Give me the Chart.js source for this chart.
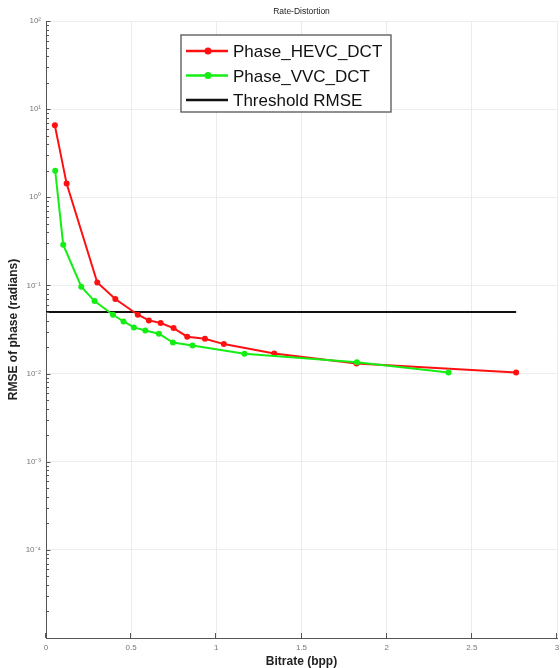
<!DOCTYPE html>
<html>
<head>
<meta charset="utf-8">
<title>Rate-Distortion</title>
<script src="https://cdn.jsdelivr.net/npm/chart.js@4.4.1/dist/chart.umd.min.js"></script>
<style>
  html, body { margin: 0; padding: 0; background: #ffffff; }
  #wrap { width: 560px; height: 668px; position: relative; }
  canvas { display: block; }
</style>
</head>
<body>
<div id="wrap"><canvas id="rd" width="560" height="668"></canvas></div>
<script>
// Rate (bpp) and phase RMSE (radians) for each codec
const hevcRate = [0.052, 0.121, 0.301, 0.407, 0.539, 0.604, 0.673, 0.749, 0.829, 0.933, 1.044, 1.340, 1.823, 2.760];
const hevcRmse = [6.55, 1.43, 0.108, 0.0700, 0.0465, 0.0401, 0.0374, 0.0328, 0.0262, 0.0248, 0.0216, 0.0169, 0.0130, 0.0103];

const vvcRate = [0.054, 0.101, 0.207, 0.285, 0.393, 0.455, 0.516, 0.583, 0.663, 0.745, 0.860, 1.165, 1.825, 2.363];
const vvcRmse = [2.00, 0.290, 0.0966, 0.0664, 0.0465, 0.0390, 0.0334, 0.0308, 0.0283, 0.0225, 0.0208, 0.0168, 0.0134, 0.0103];

// Acceptance threshold on phase RMSE
const thresholdRate = [0, 2.76];
const thresholdRmse = [0.05, 0.05];

// Axis ticks
const xTicks = [0, 0.5, 1, 1.5, 2, 2.5, 3];
const xTickLabels = ['0', '0.5', '1', '1.5', '2', '2.5', '3'];
const yDecades = [-5, -4, -3, -2, -1, 0, 1, 2];
const yLabelledDecades = [-4, -3, -2, -1, 0, 1, 2];

const seriesNames = ['Phase_HEVC_DCT', 'Phase_VVC_DCT', 'Threshold RMSE'];
const chartTitle = 'Rate-Distortion';

const FONT = "'Liberation Sans', Arial, Helvetica, sans-serif";
Chart.defaults.font.family = FONT;

const SUP = {'0':'\u2070','1':'\u00b9','2':'\u00b2','3':'\u00b3','4':'\u2074','5':'\u2075','6':'\u2076','7':'\u2077','8':'\u2078','9':'\u2079','-':'\u207b'};
function decadeOf(v) {
  const l = Math.log10(v);
  const e = Math.round(l);
  return Math.abs(l - e) < 1e-6 ? e : null;
}
function powerLabel(e) {
  return '10' + String(e).split('').map(c => SUP[c]).join('');
}

// log axis tick values: every 1..9 x 10^n between the bounds
const yTickValues = [];
yDecades.forEach((e, i) => {
  if (i === yDecades.length - 1) { yTickValues.push(Math.pow(10, e)); return; }
  for (let m = 1; m <= 9; m++) yTickValues.push(m * Math.pow(10, e));
});

const pts = (xs, ys) => xs.map((x, i) => ({ x: x, y: ys[i] }));

// small title centred over the plot area
const plotTitle = {
  id: 'plotTitle',
  afterDraw(chart, args, opts) {
    const { ctx, chartArea } = chart;
    ctx.save();
    ctx.fillStyle = '#222';
    ctx.font = '8.5px ' + FONT;
    ctx.textAlign = 'center';
    ctx.textBaseline = 'middle';
    ctx.fillText(opts.text, (chartArea.left + chartArea.right) / 2, opts.y);
    ctx.restore();
  }
};

// inward tick marks on the left and bottom axes
const innerTicks = {
  id: 'innerTicks',
  afterDraw(chart) {
    const { ctx, chartArea } = chart;
    const xs = chart.scales.x, ys = chart.scales.y;
    ctx.save();
    ctx.strokeStyle = '#555';
    ctx.lineWidth = 1;
    ctx.beginPath();
    ys.ticks.forEach(t => {
      const py = Math.round(ys.getPixelForValue(t.value)) + 0.5;
      const len = decadeOf(t.value) !== null ? 4.5 : 3;
      ctx.moveTo(chartArea.left, py);
      ctx.lineTo(chartArea.left + len, py);
    });
    xs.ticks.forEach(t => {
      const px = Math.round(xs.getPixelForValue(t.value)) - 0.5;
      ctx.moveTo(px, chartArea.bottom);
      ctx.lineTo(px, chartArea.bottom - 5);
    });
    ctx.stroke();
    ctx.restore();
  }
};

// boxed legend inside the plot area
const boxLegend = {
  id: 'boxLegend',
  afterDraw(chart, args, opts) {
    const { ctx } = chart;
    const sets = chart.data.datasets;
    ctx.save();
    ctx.fillStyle = '#ffffff';
    ctx.fillRect(opts.left, opts.top, opts.width, opts.height);
    ctx.strokeStyle = '#555';
    ctx.lineWidth = 1.3;
    ctx.strokeRect(opts.left, opts.top, opts.width, opts.height);
    opts.order.forEach((di, row) => {
      const ds = sets[di];
      const cy = opts.firstRow + row * opts.rowGap;
      ctx.strokeStyle = ds.borderColor;
      ctx.lineWidth = 2.5;
      ctx.beginPath();
      ctx.moveTo(opts.left + 5, cy);
      ctx.lineTo(opts.left + 47, cy);
      ctx.stroke();
      if (ds.pointRadius > 0) {
        ctx.fillStyle = ds.borderColor;
        ctx.beginPath();
        ctx.arc(opts.left + 27, cy, 3.5, 0, Math.PI * 2);
        ctx.fill();
      }
      ctx.fillStyle = '#111';
      ctx.font = '17px ' + FONT;
      ctx.textBaseline = 'alphabetic';
      ctx.textAlign = 'left';
      ctx.fillText(ds.label, opts.left + 52, cy + 6);
    });
    ctx.restore();
  }
};

new Chart(document.getElementById('rd'), {
  type: 'line',
  data: {
    datasets: [
      {
        label: seriesNames[0],
        data: pts(hevcRate, hevcRmse),
        borderColor: '#ff1010',
        backgroundColor: '#ff1010',
        borderWidth: 2,
        pointRadius: 3,
        pointHoverRadius: 3,
        pointBorderWidth: 0,
        order: 1
      },
      {
        label: seriesNames[1],
        data: pts(vvcRate, vvcRmse),
        borderColor: '#14ee14',
        backgroundColor: '#14ee14',
        borderWidth: 2,
        pointRadius: 3,
        pointHoverRadius: 3,
        pointBorderWidth: 0,
        order: 0
      },
      {
        label: seriesNames[2],
        data: pts(thresholdRate, thresholdRmse),
        borderColor: '#111111',
        backgroundColor: '#111111',
        borderWidth: 2,
        pointRadius: 0,
        order: 2
      }
    ]
  },
  options: {
    responsive: false,
    animation: false,
    devicePixelRatio: 1,
    layout: { padding: { left: 0, right: 2, top: 21, bottom: 0 } },
    plugins: {
      legend: { display: false },
      tooltip: { enabled: false },
      title: { display: false },
      plotTitle: { text: chartTitle, y: 12 },
      boxLegend: {
        left: 181, top: 35, width: 210, height: 77,
        firstRow: 51, rowGap: 24.5,
        order: [0, 1, 2]
      }
    },
    scales: {
      x: {
        type: 'linear',
        min: 0,
        max: 3,
        afterFit(scale) {
          scale.height = 30;
          scale.paddingLeft = 0;
          scale.paddingRight = 0;
        },
        afterBuildTicks(scale) { scale.ticks = xTicks.map(v => ({ value: v })); },
        ticks: {
          autoSkip: false,
          maxRotation: 0,
          padding: 5,
          color: '#777',
          font: { size: 8 },
          callback(v) { const i = xTicks.indexOf(v); return i >= 0 ? xTickLabels[i] : ''; }
        },
        grid: { color: '#ececec', lineWidth: 1, drawTicks: false },
        border: { display: true, color: '#555', width: 1 },
        title: {
          display: true,
          text: 'Bitrate (bpp)',
          color: '#222',
          font: { size: 12, weight: 'bold', lineHeight: 1 },
          padding: { top: 0, bottom: 0 }
        }
      },
      y: {
        type: 'logarithmic',
        min: 1e-5,
        max: 100,
        afterFit(scale) {
          scale.width = 46;
          scale.paddingTop = 0;
          scale.paddingBottom = 0;
        },
        afterBuildTicks(scale) {
          scale.ticks = yTickValues.map(v => ({ value: v, major: decadeOf(v) !== null }));
        },
        ticks: {
          autoSkip: false,
          padding: 5,
          color: '#777',
          font: { size: 8 },
          callback(v) {
            const e = decadeOf(v);
            return e !== null && yLabelledDecades.includes(e) ? powerLabel(e) : '';
          }
        },
        grid: {
          drawTicks: false,
          lineWidth: 1,
          color(ctx) {
            return ctx.tick && decadeOf(ctx.tick.value) !== null ? '#ececec' : 'rgba(0,0,0,0)';
          }
        },
        border: { display: true, color: '#555', width: 1 },
        title: {
          display: true,
          text: 'RMSE of phase (radians)',
          color: '#222',
          font: { size: 12, weight: 'bold', lineHeight: 1 },
          padding: { top: 8, bottom: 0 }
        }
      }
    }
  },
  plugins: [plotTitle, innerTicks, boxLegend]
});
</script>
</body>
</html>
